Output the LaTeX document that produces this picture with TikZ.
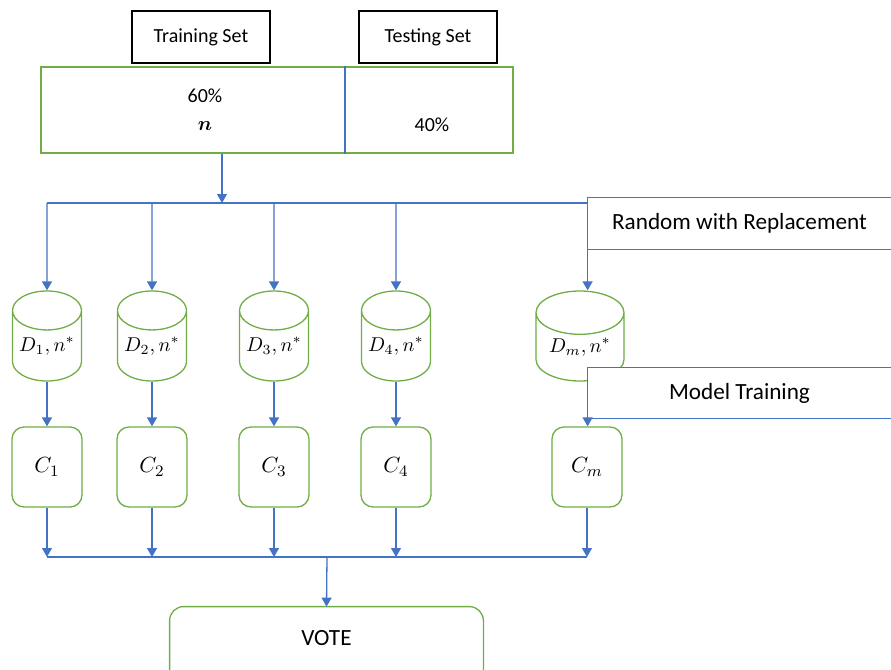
\documentclass[tikz,border=0pt]{standalone}
\usepackage{amsmath}
\usepackage{fontspec}
\setmainfont{Carlito}
\usetikzlibrary{arrows.meta,shapes.geometric}
\definecolor{bagBlue}{HTML}{4472C4}
\definecolor{bagGreen}{HTML}{70AD47}

\begin{document}
\begin{tikzpicture}[x=0.5pt, y=-0.5pt,
      every node/.style={font=\fontsize{10}{12}\selectfont},
      label/.style={draw=black, line width=0.65pt, minimum width=69pt, minimum height=26pt},
      store/.style={cylinder, shape border rotate=90, aspect=0.7, anchor=shape center,
        draw=bagGreen, line width=0.65pt, minimum width=34.5pt, minimum height=45pt,
        inner sep=0pt, font=\fontsize{10}{12}\selectfont},
      clf/.style={draw=bagGreen, line width=0.65pt, rounded corners=6pt,
        minimum width=35pt, minimum height=40pt, font=\fontsize{11}{12}\selectfont},
      tag/.style={fill=white, minimum width=151.5pt, minimum height=25.5pt,
        font=\fontsize{11.6}{13}\selectfont},
      line/.style={bagBlue, line width=0.65pt},
      arr/.style={-{Triangle[length=4.5pt, width=5pt]}, bagBlue, line width=0.65pt}]
    \useasboundingbox (0,0) rectangle (891,670);
    % data split
    \node[label] (train) at (201,37) {Training Set};
    \node[label] (test) at (428,37) {Testing Set};
    \node[draw=bagGreen, line width=0.65pt, minimum width=236pt, minimum height=43pt] (data) at (277,110) {};
    \draw[line] (data.north -| 345,0) -- (data.south -| 345,0);
    \node[align=center] (pct60) at (205,110) {60\%\\[2pt]$\boldsymbol{n}$};
    \node (pct40) at (432,125) {40\%};
    % bootstrap samples
    \coordinate (bus) at (222,203);
    \node[tag] (rnd) at (739.5,223.5) {Random with Replacement};
    \draw[line] (rnd.north east) -- (rnd.north west) -- (rnd.south west) -- (rnd.south east);
    \node[store] (d1) at (47,336) {$D_1, n^{*}$};
    \node[store] (d2) at (152,336) {$D_2, n^{*}$};
    \node[store] (d3) at (274,336) {$D_3, n^{*}$};
    \node[store] (d4) at (396,336) {$D_4, n^{*}$};
    \node[store, minimum width=44pt] (dm) at (580,336) {$D_m, n^{*}$};
    \node[tag, minimum height=25pt] (mt) at (739.5,393) {Model Training};
    \draw[line] (mt.north east) -- (mt.north west) -- (mt.south west) -- (mt.south east);
    % classifiers
    \node[clf] (c1) at (47,467) {$C_1$};
    \node[clf] (c2) at (152,467) {$C_2$};
    \node[clf] (c3) at (274,467) {$C_3$};
    \node[clf] (c4) at (396,467) {$C_4$};
    \node[clf] (cm) at (587,467) {$C_m$};
    \coordinate (vbus) at (327,557);
    \node[minimum width=156.5pt, minimum height=31.5pt, font=\fontsize{11.6}{13}\selectfont] (vote) at (326.5,638.5) {VOTE};
    \draw[bagGreen, line width=0.65pt, rounded corners=7pt]
      (vote.south west) -- (vote.north west) -- (vote.north east) -- (vote.south east);
    % connectors
    \draw[arr] (bus |- data.south) -- (bus);
    \draw[line] (d1 |- bus) -- (rnd.west |- bus);
    \foreach \i in {1,2,3,4} {
      \draw[arr] (d\i |- bus) -- (d\i.north);
      \draw[arr] (d\i.south) -- (c\i.north);
      \draw[arr] (c\i.south) -- (c\i.south |- vbus);
    }
    \draw[arr] (rnd.south west) -- (rnd.south west |- dm.north);
    \draw[arr] (mt.south west) -- (mt.south west |- cm.north);
    \draw[arr] (cm.south) -- (cm.south |- vbus);
    \draw[line] (c1.south |- vbus) -- (cm.south |- vbus);
    \draw[arr] (vbus) -- (vote.north);
  \end{tikzpicture}
\end{document}
